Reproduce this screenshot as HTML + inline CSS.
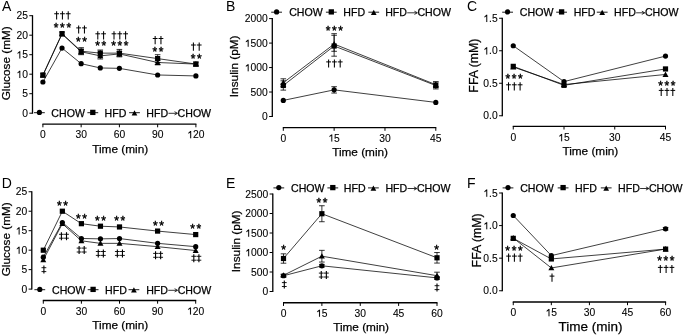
<!DOCTYPE html>
<html><head><meta charset="utf-8"><style>
html,body{margin:0;padding:0;background:#fff;}
body{width:685px;height:336px;overflow:hidden;}
svg{display:block;font-family:"Liberation Sans", sans-serif;will-change:transform;}
text{stroke:#000;stroke-width:0.25px;}
.lab{stroke-width:0;}
.tk{stroke-width:0.1px;}
.ast{stroke-width:0.4px;}
</style></head><body>
<svg width="685" height="336" viewBox="0 0 685 336">
<rect width="685" height="336" fill="#fff"/>
<text x="2.00" y="11.00" font-size="14" text-anchor="start" class="lab">A</text>
<line x1="32.50" y1="113.70" x2="32.50" y2="15.20" stroke="#000" stroke-width="1.3"/>
<line x1="29.30" y1="113.20" x2="32.50" y2="113.20" stroke="#000" stroke-width="1.0"/>
<text x="27.90" y="116.91" font-size="10.3" text-anchor="end" class="tk">0</text>
<line x1="29.30" y1="93.70" x2="32.50" y2="93.70" stroke="#000" stroke-width="1.0"/>
<text x="27.90" y="97.41" font-size="10.3" text-anchor="end" class="tk">5</text>
<line x1="29.30" y1="74.20" x2="32.50" y2="74.20" stroke="#000" stroke-width="1.0"/>
<text x="27.90" y="77.91" font-size="10.3" text-anchor="end" class="tk"> 0</text>
<path d="M583 0V1120L215 905V1080L600 1409H763V0Z" transform="translate(16.44,77.91) scale(0.00503,-0.00503)" fill="#000" stroke="#000" stroke-width="19.9"/>
<line x1="29.30" y1="54.70" x2="32.50" y2="54.70" stroke="#000" stroke-width="1.0"/>
<text x="27.90" y="58.41" font-size="10.3" text-anchor="end" class="tk"> 5</text>
<path d="M583 0V1120L215 905V1080L600 1409H763V0Z" transform="translate(16.44,58.41) scale(0.00503,-0.00503)" fill="#000" stroke="#000" stroke-width="19.9"/>
<line x1="29.30" y1="35.20" x2="32.50" y2="35.20" stroke="#000" stroke-width="1.0"/>
<text x="27.90" y="38.91" font-size="10.3" text-anchor="end" class="tk">20</text>
<line x1="29.30" y1="15.70" x2="32.50" y2="15.70" stroke="#000" stroke-width="1.0"/>
<text x="27.90" y="19.41" font-size="10.3" text-anchor="end" class="tk">25</text>
<line x1="42.40" y1="124.10" x2="196.40" y2="124.10" stroke="#000" stroke-width="1.3"/>
<line x1="42.90" y1="124.10" x2="42.90" y2="127.30" stroke="#000" stroke-width="1.0"/>
<text x="42.90" y="138.20" font-size="10.3" text-anchor="middle" class="tk">0</text>
<line x1="81.15" y1="124.10" x2="81.15" y2="127.30" stroke="#000" stroke-width="1.0"/>
<text x="81.15" y="138.20" font-size="10.3" text-anchor="middle" class="tk">30</text>
<line x1="119.40" y1="124.10" x2="119.40" y2="127.30" stroke="#000" stroke-width="1.0"/>
<text x="119.40" y="138.20" font-size="10.3" text-anchor="middle" class="tk">60</text>
<line x1="157.65" y1="124.10" x2="157.65" y2="127.30" stroke="#000" stroke-width="1.0"/>
<text x="157.65" y="138.20" font-size="10.3" text-anchor="middle" class="tk">90</text>
<line x1="195.90" y1="124.10" x2="195.90" y2="127.30" stroke="#000" stroke-width="1.0"/>
<text x="195.90" y="138.20" font-size="10.3" text-anchor="middle" class="tk"> 20</text>
<path d="M583 0V1120L215 905V1080L600 1409H763V0Z" transform="translate(187.31,138.20) scale(0.00503,-0.00503)" fill="#000" stroke="#000" stroke-width="19.9"/>
<text x="120.20" y="153.00" font-size="11.8" text-anchor="middle">Time (min)</text>
<text x="0" y="0" font-size="11.8" text-anchor="middle" transform="translate(10.00,63.30) rotate(-90)">Glucose (mM)</text>
<polyline points="42.90,82.00 62.02,48.07 81.15,63.67 100.28,67.96 119.40,68.35 157.65,74.98 195.90,75.95" fill="none" stroke="#000" stroke-width="0.75"/>
<circle cx="42.90" cy="82.00" r="2.60" fill="#000"/>
<circle cx="62.02" cy="48.07" r="2.60" fill="#000"/>
<circle cx="81.15" cy="63.67" r="2.60" fill="#000"/>
<circle cx="100.28" cy="67.96" r="2.60" fill="#000"/>
<circle cx="119.40" cy="68.35" r="2.60" fill="#000"/>
<circle cx="157.65" cy="74.98" r="2.60" fill="#000"/>
<circle cx="195.90" cy="75.95" r="2.60" fill="#000"/>
<polyline points="42.90,75.37 62.02,34.03 81.15,51.78 100.28,55.87 119.40,53.92 157.65,62.50 195.90,64.06" fill="none" stroke="#000" stroke-width="0.75"/>
<line x1="81.15" y1="49.43" x2="81.15" y2="54.12" stroke="#000" stroke-width="0.8"/>
<line x1="78.35" y1="49.43" x2="83.95" y2="49.43" stroke="#000" stroke-width="0.8"/>
<line x1="78.35" y1="54.12" x2="83.95" y2="54.12" stroke="#000" stroke-width="0.8"/>
<line x1="100.28" y1="52.75" x2="100.28" y2="58.99" stroke="#000" stroke-width="0.8"/>
<line x1="97.48" y1="52.75" x2="103.08" y2="52.75" stroke="#000" stroke-width="0.8"/>
<line x1="97.48" y1="58.99" x2="103.08" y2="58.99" stroke="#000" stroke-width="0.8"/>
<line x1="119.40" y1="51.58" x2="119.40" y2="56.26" stroke="#000" stroke-width="0.8"/>
<line x1="116.60" y1="51.58" x2="122.20" y2="51.58" stroke="#000" stroke-width="0.8"/>
<line x1="116.60" y1="56.26" x2="122.20" y2="56.26" stroke="#000" stroke-width="0.8"/>
<line x1="157.65" y1="60.16" x2="157.65" y2="64.84" stroke="#000" stroke-width="0.8"/>
<line x1="154.85" y1="60.16" x2="160.45" y2="60.16" stroke="#000" stroke-width="0.8"/>
<line x1="154.85" y1="64.84" x2="160.45" y2="64.84" stroke="#000" stroke-width="0.8"/>
<polygon points="42.90,72.37 45.90,77.77 39.90,77.77" fill="#000"/>
<polygon points="62.02,31.03 65.03,36.43 59.02,36.43" fill="#000"/>
<polygon points="81.15,48.78 84.15,54.18 78.15,54.18" fill="#000"/>
<polygon points="100.28,52.87 103.28,58.27 97.28,58.27" fill="#000"/>
<polygon points="119.40,50.92 122.40,56.32 116.40,56.32" fill="#000"/>
<polygon points="157.65,59.50 160.65,64.90 154.65,64.90" fill="#000"/>
<polygon points="195.90,61.06 198.90,66.46 192.90,66.46" fill="#000"/>
<polyline points="42.90,74.98 62.02,33.64 81.15,51.19 100.28,53.14 119.40,53.14 157.65,58.60 195.90,64.06" fill="none" stroke="#000" stroke-width="0.75"/>
<line x1="42.90" y1="73.81" x2="42.90" y2="76.15" stroke="#000" stroke-width="0.8"/>
<line x1="40.10" y1="73.81" x2="45.70" y2="73.81" stroke="#000" stroke-width="0.8"/>
<line x1="40.10" y1="76.15" x2="45.70" y2="76.15" stroke="#000" stroke-width="0.8"/>
<line x1="62.02" y1="32.08" x2="62.02" y2="35.20" stroke="#000" stroke-width="0.8"/>
<line x1="59.23" y1="32.08" x2="64.83" y2="32.08" stroke="#000" stroke-width="0.8"/>
<line x1="59.23" y1="35.20" x2="64.83" y2="35.20" stroke="#000" stroke-width="0.8"/>
<line x1="81.15" y1="47.68" x2="81.15" y2="54.70" stroke="#000" stroke-width="0.8"/>
<line x1="78.35" y1="47.68" x2="83.95" y2="47.68" stroke="#000" stroke-width="0.8"/>
<line x1="78.35" y1="54.70" x2="83.95" y2="54.70" stroke="#000" stroke-width="0.8"/>
<line x1="100.28" y1="50.02" x2="100.28" y2="56.26" stroke="#000" stroke-width="0.8"/>
<line x1="97.48" y1="50.02" x2="103.08" y2="50.02" stroke="#000" stroke-width="0.8"/>
<line x1="97.48" y1="56.26" x2="103.08" y2="56.26" stroke="#000" stroke-width="0.8"/>
<line x1="119.40" y1="49.43" x2="119.40" y2="56.85" stroke="#000" stroke-width="0.8"/>
<line x1="116.60" y1="49.43" x2="122.20" y2="49.43" stroke="#000" stroke-width="0.8"/>
<line x1="116.60" y1="56.85" x2="122.20" y2="56.85" stroke="#000" stroke-width="0.8"/>
<line x1="157.65" y1="54.70" x2="157.65" y2="62.50" stroke="#000" stroke-width="0.8"/>
<line x1="154.85" y1="54.70" x2="160.45" y2="54.70" stroke="#000" stroke-width="0.8"/>
<line x1="154.85" y1="62.50" x2="160.45" y2="62.50" stroke="#000" stroke-width="0.8"/>
<line x1="195.90" y1="62.11" x2="195.90" y2="66.01" stroke="#000" stroke-width="0.8"/>
<line x1="193.10" y1="62.11" x2="198.70" y2="62.11" stroke="#000" stroke-width="0.8"/>
<line x1="193.10" y1="66.01" x2="198.70" y2="66.01" stroke="#000" stroke-width="0.8"/>
<rect x="40.30" y="72.38" width="5.20" height="5.20" fill="#000"/>
<rect x="59.42" y="31.04" width="5.20" height="5.20" fill="#000"/>
<rect x="78.55" y="48.59" width="5.20" height="5.20" fill="#000"/>
<rect x="97.68" y="50.54" width="5.20" height="5.20" fill="#000"/>
<rect x="116.80" y="50.54" width="5.20" height="5.20" fill="#000"/>
<rect x="155.05" y="56.00" width="5.20" height="5.20" fill="#000"/>
<rect x="193.30" y="61.46" width="5.20" height="5.20" fill="#000"/>
<line x1="34.00" y1="112.70" x2="44.80" y2="112.70" stroke="#000" stroke-width="0.9"/>
<circle cx="39.40" cy="112.40" r="2.60" fill="#000"/>
<line x1="87.40" y1="112.70" x2="98.20" y2="112.70" stroke="#000" stroke-width="0.9"/>
<rect x="90.15" y="109.75" width="5.30" height="5.30" fill="#000"/>
<line x1="129.10" y1="112.70" x2="139.90" y2="112.70" stroke="#000" stroke-width="0.9"/>
<polygon points="134.50,110.30 137.35,115.43 131.65,115.43" fill="#000"/>
<text x="51.36" y="116.87" font-size="10.6" text-anchor="start">CHOW</text>
<text x="104.53" y="116.87" font-size="10.6" text-anchor="start">HFD</text>
<text x="146.33" y="116.87" font-size="10.6" text-anchor="start">HFD</text>
<line x1="168.41" y1="113.30" x2="176.92" y2="113.30" stroke="#000" stroke-width="0.8"/>
<path d="M174.52,111.70 L177.52,113.30 L174.52,114.90" fill="none" stroke="#000" stroke-width="0.8"/>
<text x="177.58" y="116.87" font-size="10.6" text-anchor="start">CHOW</text>
<path d="M56.62,11.25v8.2" stroke="#000" stroke-width="1.05"/><path d="M54.23,13.75h4.8" stroke="#000" stroke-width="1.0"/>
<path d="M62.42,11.25v8.2" stroke="#000" stroke-width="1.05"/><path d="M60.02,13.75h4.8" stroke="#000" stroke-width="1.0"/>
<path d="M68.22,11.25v8.2" stroke="#000" stroke-width="1.05"/><path d="M65.82,13.75h4.8" stroke="#000" stroke-width="1.0"/>
<text x="56.12" y="31.56" font-size="12" text-anchor="middle" class="ast">*</text>
<text x="62.42" y="31.56" font-size="12" text-anchor="middle" class="ast">*</text>
<text x="68.72" y="31.56" font-size="12" text-anchor="middle" class="ast">*</text>
<path d="M78.65,25.40v8.2" stroke="#000" stroke-width="1.05"/><path d="M76.25,27.90h4.8" stroke="#000" stroke-width="1.0"/>
<path d="M84.45,25.40v8.2" stroke="#000" stroke-width="1.05"/><path d="M82.05,27.90h4.8" stroke="#000" stroke-width="1.0"/>
<text x="78.40" y="45.56" font-size="12" text-anchor="middle" class="ast">*</text>
<text x="84.70" y="45.56" font-size="12" text-anchor="middle" class="ast">*</text>
<path d="M97.78,31.30v8.2" stroke="#000" stroke-width="1.05"/><path d="M95.38,33.80h4.8" stroke="#000" stroke-width="1.0"/>
<path d="M103.58,31.30v8.2" stroke="#000" stroke-width="1.05"/><path d="M101.18,33.80h4.8" stroke="#000" stroke-width="1.0"/>
<text x="97.53" y="50.26" font-size="12" text-anchor="middle" class="ast">*</text>
<text x="103.83" y="50.26" font-size="12" text-anchor="middle" class="ast">*</text>
<path d="M114.00,31.30v8.2" stroke="#000" stroke-width="1.05"/><path d="M111.60,33.80h4.8" stroke="#000" stroke-width="1.0"/>
<path d="M119.80,31.30v8.2" stroke="#000" stroke-width="1.05"/><path d="M117.40,33.80h4.8" stroke="#000" stroke-width="1.0"/>
<path d="M125.60,31.30v8.2" stroke="#000" stroke-width="1.05"/><path d="M123.20,33.80h4.8" stroke="#000" stroke-width="1.0"/>
<text x="113.50" y="50.26" font-size="12" text-anchor="middle" class="ast">*</text>
<text x="119.80" y="50.26" font-size="12" text-anchor="middle" class="ast">*</text>
<text x="126.10" y="50.26" font-size="12" text-anchor="middle" class="ast">*</text>
<path d="M155.15,36.00v8.2" stroke="#000" stroke-width="1.05"/><path d="M152.75,38.50h4.8" stroke="#000" stroke-width="1.0"/>
<path d="M160.95,36.00v8.2" stroke="#000" stroke-width="1.05"/><path d="M158.55,38.50h4.8" stroke="#000" stroke-width="1.0"/>
<text x="154.90" y="56.16" font-size="12" text-anchor="middle" class="ast">*</text>
<text x="161.20" y="56.16" font-size="12" text-anchor="middle" class="ast">*</text>
<path d="M193.40,42.50v8.2" stroke="#000" stroke-width="1.05"/><path d="M191.00,45.00h4.8" stroke="#000" stroke-width="1.0"/>
<path d="M199.20,42.50v8.2" stroke="#000" stroke-width="1.05"/><path d="M196.80,45.00h4.8" stroke="#000" stroke-width="1.0"/>
<text x="193.15" y="62.66" font-size="12" text-anchor="middle" class="ast">*</text>
<text x="199.45" y="62.66" font-size="12" text-anchor="middle" class="ast">*</text>
<text x="226.00" y="11.00" font-size="14" text-anchor="start" class="lab">B</text>
<line x1="272.30" y1="117.00" x2="272.30" y2="18.10" stroke="#000" stroke-width="1.3"/>
<line x1="269.10" y1="116.50" x2="272.30" y2="116.50" stroke="#000" stroke-width="1.0"/>
<text x="267.70" y="120.21" font-size="10.3" text-anchor="end" class="tk">0</text>
<line x1="269.10" y1="92.03" x2="272.30" y2="92.03" stroke="#000" stroke-width="1.0"/>
<text x="267.70" y="95.73" font-size="10.3" text-anchor="end" class="tk">500</text>
<line x1="269.10" y1="67.55" x2="272.30" y2="67.55" stroke="#000" stroke-width="1.0"/>
<text x="267.70" y="71.26" font-size="10.3" text-anchor="end" class="tk"> 000</text>
<path d="M583 0V1120L215 905V1080L600 1409H763V0Z" transform="translate(244.79,71.26) scale(0.00503,-0.00503)" fill="#000" stroke="#000" stroke-width="19.9"/>
<line x1="269.10" y1="43.08" x2="272.30" y2="43.08" stroke="#000" stroke-width="1.0"/>
<text x="267.70" y="46.78" font-size="10.3" text-anchor="end" class="tk"> 500</text>
<path d="M583 0V1120L215 905V1080L600 1409H763V0Z" transform="translate(244.79,46.78) scale(0.00503,-0.00503)" fill="#000" stroke="#000" stroke-width="19.9"/>
<line x1="269.10" y1="18.60" x2="272.30" y2="18.60" stroke="#000" stroke-width="1.0"/>
<text x="267.70" y="22.31" font-size="10.3" text-anchor="end" class="tk">2000</text>
<line x1="282.80" y1="127.60" x2="436.30" y2="127.60" stroke="#000" stroke-width="1.3"/>
<line x1="283.30" y1="127.60" x2="283.30" y2="130.80" stroke="#000" stroke-width="1.0"/>
<text x="283.30" y="141.50" font-size="10.3" text-anchor="middle" class="tk">0</text>
<line x1="334.13" y1="127.60" x2="334.13" y2="130.80" stroke="#000" stroke-width="1.0"/>
<text x="334.13" y="141.50" font-size="10.3" text-anchor="middle" class="tk"> 5</text>
<path d="M583 0V1120L215 905V1080L600 1409H763V0Z" transform="translate(328.40,141.50) scale(0.00503,-0.00503)" fill="#000" stroke="#000" stroke-width="19.9"/>
<line x1="384.97" y1="127.60" x2="384.97" y2="130.80" stroke="#000" stroke-width="1.0"/>
<text x="384.97" y="141.50" font-size="10.3" text-anchor="middle" class="tk">30</text>
<line x1="435.80" y1="127.60" x2="435.80" y2="130.80" stroke="#000" stroke-width="1.0"/>
<text x="435.80" y="141.50" font-size="10.3" text-anchor="middle" class="tk">45</text>
<text x="360.10" y="156.30" font-size="11.8" text-anchor="middle">Time (min)</text>
<text x="0" y="0" font-size="11.8" text-anchor="middle" transform="translate(237.90,66.35) rotate(-90)">Insulin (pM)</text>
<polyline points="283.30,100.40 334.13,89.87 435.80,102.40" fill="none" stroke="#000" stroke-width="0.75"/>
<line x1="334.13" y1="86.69" x2="334.13" y2="93.05" stroke="#000" stroke-width="0.8"/>
<line x1="331.33" y1="86.69" x2="336.93" y2="86.69" stroke="#000" stroke-width="0.8"/>
<line x1="331.33" y1="93.05" x2="336.93" y2="93.05" stroke="#000" stroke-width="0.8"/>
<circle cx="283.30" cy="100.40" r="2.60" fill="#000"/>
<circle cx="334.13" cy="89.87" r="2.60" fill="#000"/>
<circle cx="435.80" cy="102.40" r="2.60" fill="#000"/>
<polyline points="283.30,82.72 334.13,44.05 435.80,84.68" fill="none" stroke="#000" stroke-width="0.75"/>
<line x1="283.30" y1="78.81" x2="283.30" y2="86.64" stroke="#000" stroke-width="0.8"/>
<line x1="280.50" y1="78.81" x2="286.10" y2="78.81" stroke="#000" stroke-width="0.8"/>
<line x1="280.50" y1="86.64" x2="286.10" y2="86.64" stroke="#000" stroke-width="0.8"/>
<line x1="334.13" y1="35.29" x2="334.13" y2="51.30" stroke="#000" stroke-width="0.8"/>
<line x1="331.33" y1="35.29" x2="336.93" y2="35.29" stroke="#000" stroke-width="0.8"/>
<line x1="331.33" y1="51.30" x2="336.93" y2="51.30" stroke="#000" stroke-width="0.8"/>
<line x1="435.80" y1="81.75" x2="435.80" y2="87.62" stroke="#000" stroke-width="0.8"/>
<line x1="433.00" y1="81.75" x2="438.60" y2="81.75" stroke="#000" stroke-width="0.8"/>
<line x1="433.00" y1="87.62" x2="438.60" y2="87.62" stroke="#000" stroke-width="0.8"/>
<polygon points="283.30,79.72 286.30,85.12 280.30,85.12" fill="#000"/>
<polygon points="334.13,41.05 337.13,46.45 331.13,46.45" fill="#000"/>
<polygon points="435.80,81.68 438.80,87.08 432.80,87.08" fill="#000"/>
<polyline points="283.30,85.47 334.13,46.01 435.80,85.51" fill="none" stroke="#000" stroke-width="0.75"/>
<line x1="283.30" y1="80.82" x2="283.30" y2="90.12" stroke="#000" stroke-width="0.8"/>
<line x1="280.50" y1="80.82" x2="286.10" y2="80.82" stroke="#000" stroke-width="0.8"/>
<line x1="280.50" y1="90.12" x2="286.10" y2="90.12" stroke="#000" stroke-width="0.8"/>
<line x1="334.13" y1="33.68" x2="334.13" y2="56.19" stroke="#000" stroke-width="0.8"/>
<line x1="331.33" y1="33.68" x2="336.93" y2="33.68" stroke="#000" stroke-width="0.8"/>
<line x1="331.33" y1="56.19" x2="336.93" y2="56.19" stroke="#000" stroke-width="0.8"/>
<line x1="435.80" y1="82.09" x2="435.80" y2="88.94" stroke="#000" stroke-width="0.8"/>
<line x1="433.00" y1="82.09" x2="438.60" y2="82.09" stroke="#000" stroke-width="0.8"/>
<line x1="433.00" y1="88.94" x2="438.60" y2="88.94" stroke="#000" stroke-width="0.8"/>
<rect x="280.70" y="82.87" width="5.20" height="5.20" fill="#000"/>
<rect x="331.53" y="43.41" width="5.20" height="5.20" fill="#000"/>
<rect x="433.20" y="82.91" width="5.20" height="5.20" fill="#000"/>
<line x1="271.20" y1="12.20" x2="282.00" y2="12.20" stroke="#000" stroke-width="0.9"/>
<circle cx="276.60" cy="11.90" r="2.60" fill="#000"/>
<line x1="325.90" y1="12.20" x2="336.70" y2="12.20" stroke="#000" stroke-width="0.9"/>
<rect x="328.65" y="9.25" width="5.30" height="5.30" fill="#000"/>
<line x1="368.35" y1="12.20" x2="379.15" y2="12.20" stroke="#000" stroke-width="0.9"/>
<polygon points="373.75,9.80 376.60,14.93 370.90,14.93" fill="#000"/>
<text x="289.16" y="16.37" font-size="10.6" text-anchor="start">CHOW</text>
<text x="343.33" y="16.37" font-size="10.6" text-anchor="start">HFD</text>
<text x="385.13" y="16.37" font-size="10.6" text-anchor="start">HFD</text>
<line x1="407.21" y1="12.80" x2="416.82" y2="12.80" stroke="#000" stroke-width="0.8"/>
<path d="M414.42,11.20 L417.42,12.80 L414.42,14.40" fill="none" stroke="#000" stroke-width="0.8"/>
<text x="417.48" y="16.37" font-size="10.6" text-anchor="start">CHOW</text>
<text x="328.10" y="34.66" font-size="12" text-anchor="middle" class="ast">*</text>
<text x="334.40" y="34.66" font-size="12" text-anchor="middle" class="ast">*</text>
<text x="340.70" y="34.66" font-size="12" text-anchor="middle" class="ast">*</text>
<path d="M328.60,59.40v8.2" stroke="#000" stroke-width="1.05"/><path d="M326.20,61.90h4.8" stroke="#000" stroke-width="1.0"/>
<path d="M334.40,59.40v8.2" stroke="#000" stroke-width="1.05"/><path d="M332.00,61.90h4.8" stroke="#000" stroke-width="1.0"/>
<path d="M340.20,59.40v8.2" stroke="#000" stroke-width="1.05"/><path d="M337.80,61.90h4.8" stroke="#000" stroke-width="1.0"/>
<text x="467.00" y="11.00" font-size="14" text-anchor="start" class="lab">C</text>
<line x1="502.30" y1="116.25" x2="502.30" y2="17.75" stroke="#000" stroke-width="1.3"/>
<line x1="499.10" y1="115.75" x2="502.30" y2="115.75" stroke="#000" stroke-width="1.0"/>
<text x="497.70" y="119.46" font-size="10.3" text-anchor="end" class="tk">0.0</text>
<line x1="499.10" y1="83.25" x2="502.30" y2="83.25" stroke="#000" stroke-width="1.0"/>
<text x="497.70" y="86.96" font-size="10.3" text-anchor="end" class="tk">0.5</text>
<line x1="499.10" y1="50.75" x2="502.30" y2="50.75" stroke="#000" stroke-width="1.0"/>
<text x="497.70" y="54.46" font-size="10.3" text-anchor="end" class="tk"> .0</text>
<path d="M583 0V1120L215 905V1080L600 1409H763V0Z" transform="translate(483.38,54.46) scale(0.00503,-0.00503)" fill="#000" stroke="#000" stroke-width="19.9"/>
<line x1="499.10" y1="18.25" x2="502.30" y2="18.25" stroke="#000" stroke-width="1.0"/>
<text x="497.70" y="21.96" font-size="10.3" text-anchor="end" class="tk"> .5</text>
<path d="M583 0V1120L215 905V1080L600 1409H763V0Z" transform="translate(483.38,21.96) scale(0.00503,-0.00503)" fill="#000" stroke="#000" stroke-width="19.9"/>
<line x1="512.75" y1="126.30" x2="666.00" y2="126.30" stroke="#000" stroke-width="1.3"/>
<line x1="513.25" y1="126.30" x2="513.25" y2="129.50" stroke="#000" stroke-width="1.0"/>
<text x="513.25" y="141.20" font-size="10.3" text-anchor="middle" class="tk">0</text>
<line x1="564.00" y1="126.30" x2="564.00" y2="129.50" stroke="#000" stroke-width="1.0"/>
<text x="564.00" y="141.20" font-size="10.3" text-anchor="middle" class="tk"> 5</text>
<path d="M583 0V1120L215 905V1080L600 1409H763V0Z" transform="translate(558.27,141.20) scale(0.00503,-0.00503)" fill="#000" stroke="#000" stroke-width="19.9"/>
<line x1="614.75" y1="126.30" x2="614.75" y2="129.50" stroke="#000" stroke-width="1.0"/>
<text x="614.75" y="141.20" font-size="10.3" text-anchor="middle" class="tk">30</text>
<line x1="665.50" y1="126.30" x2="665.50" y2="129.50" stroke="#000" stroke-width="1.0"/>
<text x="665.50" y="141.20" font-size="10.3" text-anchor="middle" class="tk">45</text>
<text x="590.35" y="155.30" font-size="11.8" text-anchor="middle">Time (min)</text>
<text x="0" y="0" font-size="12.3" text-anchor="middle" transform="translate(478.10,65.65) rotate(-90)">FFA (mM)</text>
<polyline points="513.25,45.75 564.00,81.62 665.50,56.08" fill="none" stroke="#000" stroke-width="0.75"/>
<circle cx="513.25" cy="45.75" r="2.60" fill="#000"/>
<circle cx="564.00" cy="81.62" r="2.60" fill="#000"/>
<circle cx="665.50" cy="56.08" r="2.60" fill="#000"/>
<polyline points="513.25,67.00 564.00,84.55 665.50,74.47" fill="none" stroke="#000" stroke-width="0.75"/>
<polygon points="513.25,64.00 516.25,69.40 510.25,69.40" fill="#000"/>
<polygon points="564.00,81.55 567.00,86.95 561.00,86.95" fill="#000"/>
<polygon points="665.50,71.47 668.50,76.88 662.50,76.88" fill="#000"/>
<polyline points="513.25,66.35 564.00,85.33 665.50,68.95" fill="none" stroke="#000" stroke-width="0.75"/>
<rect x="510.65" y="63.75" width="5.20" height="5.20" fill="#000"/>
<rect x="561.40" y="82.73" width="5.20" height="5.20" fill="#000"/>
<rect x="662.90" y="66.35" width="5.20" height="5.20" fill="#000"/>
<line x1="502.20" y1="12.20" x2="513.00" y2="12.20" stroke="#000" stroke-width="0.9"/>
<circle cx="507.60" cy="11.90" r="2.60" fill="#000"/>
<line x1="556.20" y1="12.20" x2="567.00" y2="12.20" stroke="#000" stroke-width="0.9"/>
<rect x="558.95" y="9.25" width="5.30" height="5.30" fill="#000"/>
<line x1="596.80" y1="12.20" x2="607.60" y2="12.20" stroke="#000" stroke-width="0.9"/>
<polygon points="602.20,9.80 605.05,14.93 599.35,14.93" fill="#000"/>
<text x="519.86" y="16.37" font-size="10.6" text-anchor="start">CHOW</text>
<text x="573.63" y="16.37" font-size="10.6" text-anchor="start">HFD</text>
<text x="614.03" y="16.37" font-size="10.6" text-anchor="start">HFD</text>
<line x1="636.11" y1="12.80" x2="644.22" y2="12.80" stroke="#000" stroke-width="0.8"/>
<path d="M641.82,11.20 L644.82,12.80 L641.82,14.40" fill="none" stroke="#000" stroke-width="0.8"/>
<text x="644.88" y="16.37" font-size="10.6" text-anchor="start">CHOW</text>
<text x="507.80" y="83.36" font-size="12" text-anchor="middle" class="ast">*</text>
<text x="514.10" y="83.36" font-size="12" text-anchor="middle" class="ast">*</text>
<text x="520.40" y="83.36" font-size="12" text-anchor="middle" class="ast">*</text>
<path d="M508.50,82.30v8.2" stroke="#000" stroke-width="1.05"/><path d="M506.10,84.80h4.8" stroke="#000" stroke-width="1.0"/>
<path d="M514.30,82.30v8.2" stroke="#000" stroke-width="1.05"/><path d="M511.90,84.80h4.8" stroke="#000" stroke-width="1.0"/>
<path d="M520.10,82.30v8.2" stroke="#000" stroke-width="1.05"/><path d="M517.70,84.80h4.8" stroke="#000" stroke-width="1.0"/>
<text x="660.50" y="89.56" font-size="12" text-anchor="middle" class="ast">*</text>
<text x="666.80" y="89.56" font-size="12" text-anchor="middle" class="ast">*</text>
<text x="673.10" y="89.56" font-size="12" text-anchor="middle" class="ast">*</text>
<path d="M661.20,87.90v8.2" stroke="#000" stroke-width="1.05"/><path d="M658.80,90.40h4.8" stroke="#000" stroke-width="1.0"/>
<path d="M667.00,87.90v8.2" stroke="#000" stroke-width="1.05"/><path d="M664.60,90.40h4.8" stroke="#000" stroke-width="1.0"/>
<path d="M672.80,87.90v8.2" stroke="#000" stroke-width="1.05"/><path d="M670.40,90.40h4.8" stroke="#000" stroke-width="1.0"/>
<text x="1.80" y="187.80" font-size="14" text-anchor="start" class="lab">D</text>
<line x1="31.80" y1="289.60" x2="31.80" y2="191.25" stroke="#000" stroke-width="1.3"/>
<line x1="28.60" y1="289.10" x2="31.80" y2="289.10" stroke="#000" stroke-width="1.0"/>
<text x="27.20" y="292.81" font-size="10.3" text-anchor="end" class="tk">0</text>
<line x1="28.60" y1="269.63" x2="31.80" y2="269.63" stroke="#000" stroke-width="1.0"/>
<text x="27.20" y="273.34" font-size="10.3" text-anchor="end" class="tk">5</text>
<line x1="28.60" y1="250.16" x2="31.80" y2="250.16" stroke="#000" stroke-width="1.0"/>
<text x="27.20" y="253.87" font-size="10.3" text-anchor="end" class="tk"> 0</text>
<path d="M583 0V1120L215 905V1080L600 1409H763V0Z" transform="translate(15.74,253.87) scale(0.00503,-0.00503)" fill="#000" stroke="#000" stroke-width="19.9"/>
<line x1="28.60" y1="230.69" x2="31.80" y2="230.69" stroke="#000" stroke-width="1.0"/>
<text x="27.20" y="234.40" font-size="10.3" text-anchor="end" class="tk"> 5</text>
<path d="M583 0V1120L215 905V1080L600 1409H763V0Z" transform="translate(15.74,234.40) scale(0.00503,-0.00503)" fill="#000" stroke="#000" stroke-width="19.9"/>
<line x1="28.60" y1="211.22" x2="31.80" y2="211.22" stroke="#000" stroke-width="1.0"/>
<text x="27.20" y="214.93" font-size="10.3" text-anchor="end" class="tk">20</text>
<line x1="28.60" y1="191.75" x2="31.80" y2="191.75" stroke="#000" stroke-width="1.0"/>
<text x="27.20" y="195.46" font-size="10.3" text-anchor="end" class="tk">25</text>
<line x1="42.80" y1="300.50" x2="196.20" y2="300.50" stroke="#000" stroke-width="1.3"/>
<line x1="43.30" y1="300.50" x2="43.30" y2="303.70" stroke="#000" stroke-width="1.0"/>
<text x="43.30" y="314.50" font-size="10.3" text-anchor="middle" class="tk">0</text>
<line x1="81.40" y1="300.50" x2="81.40" y2="303.70" stroke="#000" stroke-width="1.0"/>
<text x="81.40" y="314.50" font-size="10.3" text-anchor="middle" class="tk">30</text>
<line x1="119.50" y1="300.50" x2="119.50" y2="303.70" stroke="#000" stroke-width="1.0"/>
<text x="119.50" y="314.50" font-size="10.3" text-anchor="middle" class="tk">60</text>
<line x1="157.60" y1="300.50" x2="157.60" y2="303.70" stroke="#000" stroke-width="1.0"/>
<text x="157.60" y="314.50" font-size="10.3" text-anchor="middle" class="tk">90</text>
<line x1="195.70" y1="300.50" x2="195.70" y2="303.70" stroke="#000" stroke-width="1.0"/>
<text x="195.70" y="314.50" font-size="10.3" text-anchor="middle" class="tk"> 20</text>
<path d="M583 0V1120L215 905V1080L600 1409H763V0Z" transform="translate(187.11,314.50) scale(0.00503,-0.00503)" fill="#000" stroke="#000" stroke-width="19.9"/>
<text x="120.25" y="328.90" font-size="11.8" text-anchor="middle">Time (min)</text>
<text x="0" y="0" font-size="11.8" text-anchor="middle" transform="translate(9.80,239.30) rotate(-90)">Glucose (mM)</text>
<polyline points="43.30,257.17 62.35,222.51 81.40,238.48 100.45,238.87 119.50,238.56 157.60,243.35 195.70,246.66" fill="none" stroke="#000" stroke-width="0.75"/>
<circle cx="43.30" cy="257.17" r="2.60" fill="#000"/>
<circle cx="62.35" cy="222.51" r="2.60" fill="#000"/>
<circle cx="81.40" cy="238.48" r="2.60" fill="#000"/>
<circle cx="100.45" cy="238.87" r="2.60" fill="#000"/>
<circle cx="119.50" cy="238.56" r="2.60" fill="#000"/>
<circle cx="157.60" cy="243.35" r="2.60" fill="#000"/>
<circle cx="195.70" cy="246.66" r="2.60" fill="#000"/>
<polyline points="43.30,259.90 62.35,223.68 81.40,240.81 100.45,243.35 119.50,243.35 157.60,246.66 195.70,250.55" fill="none" stroke="#000" stroke-width="0.75"/>
<polygon points="43.30,256.90 46.30,262.30 40.30,262.30" fill="#000"/>
<polygon points="62.35,220.68 65.35,226.08 59.35,226.08" fill="#000"/>
<polygon points="81.40,237.81 84.40,243.21 78.40,243.21" fill="#000"/>
<polygon points="100.45,240.35 103.45,245.75 97.45,245.75" fill="#000"/>
<polygon points="119.50,240.35 122.50,245.75 116.50,245.75" fill="#000"/>
<polygon points="157.60,243.66 160.60,249.06 154.60,249.06" fill="#000"/>
<polygon points="195.70,247.55 198.70,252.95 192.70,252.95" fill="#000"/>
<polyline points="43.30,250.20 62.35,211.22 81.40,223.68 100.45,226.21 119.50,226.95 157.60,231.08 195.70,234.58" fill="none" stroke="#000" stroke-width="0.75"/>
<rect x="40.70" y="247.60" width="5.20" height="5.20" fill="#000"/>
<rect x="59.75" y="208.62" width="5.20" height="5.20" fill="#000"/>
<rect x="78.80" y="221.08" width="5.20" height="5.20" fill="#000"/>
<rect x="97.85" y="223.61" width="5.20" height="5.20" fill="#000"/>
<rect x="116.90" y="224.35" width="5.20" height="5.20" fill="#000"/>
<rect x="155.00" y="228.48" width="5.20" height="5.20" fill="#000"/>
<rect x="193.10" y="231.98" width="5.20" height="5.20" fill="#000"/>
<line x1="34.40" y1="289.70" x2="45.20" y2="289.70" stroke="#000" stroke-width="0.9"/>
<circle cx="39.80" cy="289.40" r="2.60" fill="#000"/>
<line x1="87.70" y1="289.70" x2="98.50" y2="289.70" stroke="#000" stroke-width="0.9"/>
<rect x="90.45" y="286.75" width="5.30" height="5.30" fill="#000"/>
<line x1="128.50" y1="289.70" x2="139.30" y2="289.70" stroke="#000" stroke-width="0.9"/>
<polygon points="133.90,287.30 136.75,292.43 131.05,292.43" fill="#000"/>
<text x="52.06" y="293.87" font-size="10.6" text-anchor="start">CHOW</text>
<text x="105.03" y="293.87" font-size="10.6" text-anchor="start">HFD</text>
<text x="146.13" y="293.87" font-size="10.6" text-anchor="start">HFD</text>
<line x1="168.21" y1="290.30" x2="177.02" y2="290.30" stroke="#000" stroke-width="0.8"/>
<path d="M174.62,288.70 L177.62,290.30 L174.62,291.90" fill="none" stroke="#000" stroke-width="0.8"/>
<text x="177.68" y="293.87" font-size="10.6" text-anchor="start">CHOW</text>
<text x="59.35" y="209.51" font-size="12" text-anchor="middle" class="ast">*</text>
<text x="65.65" y="209.51" font-size="12" text-anchor="middle" class="ast">*</text>
<path d="M61.40,232.20v8.0" stroke="#000" stroke-width="1.1"/><path d="M59.00,234.30h4.8M59.00,238.20h4.8" stroke="#000" stroke-width="0.9"/>
<path d="M66.50,232.20v8.0" stroke="#000" stroke-width="1.1"/><path d="M64.10,234.30h4.8M64.10,238.20h4.8" stroke="#000" stroke-width="0.9"/>
<text x="78.40" y="223.06" font-size="12" text-anchor="middle" class="ast">*</text>
<text x="84.70" y="223.06" font-size="12" text-anchor="middle" class="ast">*</text>
<path d="M79.10,246.00v8.0" stroke="#000" stroke-width="1.1"/><path d="M76.70,248.10h4.8M76.70,252.00h4.8" stroke="#000" stroke-width="0.9"/>
<path d="M84.20,246.00v8.0" stroke="#000" stroke-width="1.1"/><path d="M81.80,248.10h4.8M81.80,252.00h4.8" stroke="#000" stroke-width="0.9"/>
<text x="97.35" y="224.51" font-size="12" text-anchor="middle" class="ast">*</text>
<text x="103.65" y="224.51" font-size="12" text-anchor="middle" class="ast">*</text>
<path d="M98.25,249.40v8.0" stroke="#000" stroke-width="1.1"/><path d="M95.85,251.50h4.8M95.85,255.40h4.8" stroke="#000" stroke-width="0.9"/>
<path d="M103.35,249.40v8.0" stroke="#000" stroke-width="1.1"/><path d="M100.95,251.50h4.8M100.95,255.40h4.8" stroke="#000" stroke-width="0.9"/>
<text x="116.55" y="224.51" font-size="12" text-anchor="middle" class="ast">*</text>
<text x="122.85" y="224.51" font-size="12" text-anchor="middle" class="ast">*</text>
<path d="M117.35,249.40v8.0" stroke="#000" stroke-width="1.1"/><path d="M114.95,251.50h4.8M114.95,255.40h4.8" stroke="#000" stroke-width="0.9"/>
<path d="M122.45,249.40v8.0" stroke="#000" stroke-width="1.1"/><path d="M120.05,251.50h4.8M120.05,255.40h4.8" stroke="#000" stroke-width="0.9"/>
<text x="155.25" y="229.51" font-size="12" text-anchor="middle" class="ast">*</text>
<text x="161.55" y="229.51" font-size="12" text-anchor="middle" class="ast">*</text>
<path d="M155.55,251.30v8.0" stroke="#000" stroke-width="1.1"/><path d="M153.15,253.40h4.8M153.15,257.30h4.8" stroke="#000" stroke-width="0.9"/>
<path d="M160.65,251.30v8.0" stroke="#000" stroke-width="1.1"/><path d="M158.25,253.40h4.8M158.25,257.30h4.8" stroke="#000" stroke-width="0.9"/>
<text x="192.65" y="233.36" font-size="12" text-anchor="middle" class="ast">*</text>
<text x="198.95" y="233.36" font-size="12" text-anchor="middle" class="ast">*</text>
<path d="M193.80,254.20v8.0" stroke="#000" stroke-width="1.1"/><path d="M191.40,256.30h4.8M191.40,260.20h4.8" stroke="#000" stroke-width="0.9"/>
<path d="M198.90,254.20v8.0" stroke="#000" stroke-width="1.1"/><path d="M196.50,256.30h4.8M196.50,260.20h4.8" stroke="#000" stroke-width="0.9"/>
<path d="M43.90,265.60v8.0" stroke="#000" stroke-width="1.1"/><path d="M41.50,267.70h4.8M41.50,271.60h4.8" stroke="#000" stroke-width="0.9"/>
<text x="226.00" y="187.80" font-size="14" text-anchor="start" class="lab">E</text>
<line x1="272.80" y1="292.00" x2="272.80" y2="193.50" stroke="#000" stroke-width="1.3"/>
<line x1="269.60" y1="291.50" x2="272.80" y2="291.50" stroke="#000" stroke-width="1.0"/>
<text x="268.20" y="295.21" font-size="10.3" text-anchor="end" class="tk">0</text>
<line x1="269.60" y1="272.00" x2="272.80" y2="272.00" stroke="#000" stroke-width="1.0"/>
<text x="268.20" y="275.71" font-size="10.3" text-anchor="end" class="tk">500</text>
<line x1="269.60" y1="252.50" x2="272.80" y2="252.50" stroke="#000" stroke-width="1.0"/>
<text x="268.20" y="256.21" font-size="10.3" text-anchor="end" class="tk"> 000</text>
<path d="M583 0V1120L215 905V1080L600 1409H763V0Z" transform="translate(245.29,256.21) scale(0.00503,-0.00503)" fill="#000" stroke="#000" stroke-width="19.9"/>
<line x1="269.60" y1="233.00" x2="272.80" y2="233.00" stroke="#000" stroke-width="1.0"/>
<text x="268.20" y="236.71" font-size="10.3" text-anchor="end" class="tk"> 500</text>
<path d="M583 0V1120L215 905V1080L600 1409H763V0Z" transform="translate(245.29,236.71) scale(0.00503,-0.00503)" fill="#000" stroke="#000" stroke-width="19.9"/>
<line x1="269.60" y1="213.50" x2="272.80" y2="213.50" stroke="#000" stroke-width="1.0"/>
<text x="268.20" y="217.21" font-size="10.3" text-anchor="end" class="tk">2000</text>
<line x1="269.60" y1="194.00" x2="272.80" y2="194.00" stroke="#000" stroke-width="1.0"/>
<text x="268.20" y="197.71" font-size="10.3" text-anchor="end" class="tk">2500</text>
<line x1="283.00" y1="302.75" x2="437.50" y2="302.75" stroke="#000" stroke-width="1.3"/>
<line x1="283.50" y1="302.75" x2="283.50" y2="305.95" stroke="#000" stroke-width="1.0"/>
<text x="283.50" y="316.80" font-size="10.3" text-anchor="middle" class="tk">0</text>
<line x1="321.88" y1="302.75" x2="321.88" y2="305.95" stroke="#000" stroke-width="1.0"/>
<text x="321.88" y="316.80" font-size="10.3" text-anchor="middle" class="tk"> 5</text>
<path d="M583 0V1120L215 905V1080L600 1409H763V0Z" transform="translate(316.15,316.80) scale(0.00503,-0.00503)" fill="#000" stroke="#000" stroke-width="19.9"/>
<line x1="360.25" y1="302.75" x2="360.25" y2="305.95" stroke="#000" stroke-width="1.0"/>
<text x="360.25" y="316.80" font-size="10.3" text-anchor="middle" class="tk">30</text>
<line x1="398.62" y1="302.75" x2="398.62" y2="305.95" stroke="#000" stroke-width="1.0"/>
<text x="398.62" y="316.80" font-size="10.3" text-anchor="middle" class="tk">45</text>
<line x1="437.00" y1="302.75" x2="437.00" y2="305.95" stroke="#000" stroke-width="1.0"/>
<text x="437.00" y="316.80" font-size="10.3" text-anchor="middle" class="tk">60</text>
<text x="361.10" y="330.90" font-size="11.8" text-anchor="middle">Time (min)</text>
<text x="0" y="0" font-size="11.8" text-anchor="middle" transform="translate(239.70,241.35) rotate(-90)">Insulin (pM)</text>
<polyline points="283.50,275.74 321.88,265.80 437.00,277.89" fill="none" stroke="#000" stroke-width="0.75"/>
<line x1="283.50" y1="274.77" x2="283.50" y2="276.72" stroke="#000" stroke-width="0.8"/>
<line x1="280.70" y1="274.77" x2="286.30" y2="274.77" stroke="#000" stroke-width="0.8"/>
<line x1="280.70" y1="276.72" x2="286.30" y2="276.72" stroke="#000" stroke-width="0.8"/>
<line x1="321.88" y1="264.43" x2="321.88" y2="267.16" stroke="#000" stroke-width="0.8"/>
<line x1="319.07" y1="264.43" x2="324.68" y2="264.43" stroke="#000" stroke-width="0.8"/>
<line x1="319.07" y1="267.16" x2="324.68" y2="267.16" stroke="#000" stroke-width="0.8"/>
<line x1="437.00" y1="276.72" x2="437.00" y2="279.06" stroke="#000" stroke-width="0.8"/>
<line x1="434.20" y1="276.72" x2="439.80" y2="276.72" stroke="#000" stroke-width="0.8"/>
<line x1="434.20" y1="279.06" x2="439.80" y2="279.06" stroke="#000" stroke-width="0.8"/>
<circle cx="283.50" cy="275.74" r="2.60" fill="#000"/>
<circle cx="321.88" cy="265.80" r="2.60" fill="#000"/>
<circle cx="437.00" cy="277.89" r="2.60" fill="#000"/>
<polyline points="283.50,275.31 321.88,256.20 437.00,275.70" fill="none" stroke="#000" stroke-width="0.75"/>
<line x1="283.50" y1="274.14" x2="283.50" y2="276.49" stroke="#000" stroke-width="0.8"/>
<line x1="280.70" y1="274.14" x2="286.30" y2="274.14" stroke="#000" stroke-width="0.8"/>
<line x1="280.70" y1="276.49" x2="286.30" y2="276.49" stroke="#000" stroke-width="0.8"/>
<line x1="321.88" y1="250.35" x2="321.88" y2="262.06" stroke="#000" stroke-width="0.8"/>
<line x1="319.07" y1="250.35" x2="324.68" y2="250.35" stroke="#000" stroke-width="0.8"/>
<line x1="319.07" y1="262.06" x2="324.68" y2="262.06" stroke="#000" stroke-width="0.8"/>
<line x1="437.00" y1="272.19" x2="437.00" y2="279.21" stroke="#000" stroke-width="0.8"/>
<line x1="434.20" y1="272.19" x2="439.80" y2="272.19" stroke="#000" stroke-width="0.8"/>
<line x1="434.20" y1="279.21" x2="439.80" y2="279.21" stroke="#000" stroke-width="0.8"/>
<polygon points="283.50,272.31 286.50,277.71 280.50,277.71" fill="#000"/>
<polygon points="321.88,253.20 324.88,258.60 318.88,258.60" fill="#000"/>
<polygon points="437.00,272.70 440.00,278.10 434.00,278.10" fill="#000"/>
<polyline points="283.50,258.51 321.88,213.73 437.00,257.80" fill="none" stroke="#000" stroke-width="0.75"/>
<line x1="283.50" y1="253.83" x2="283.50" y2="263.19" stroke="#000" stroke-width="0.8"/>
<line x1="280.70" y1="253.83" x2="286.30" y2="253.83" stroke="#000" stroke-width="0.8"/>
<line x1="280.70" y1="263.19" x2="286.30" y2="263.19" stroke="#000" stroke-width="0.8"/>
<line x1="321.88" y1="205.74" x2="321.88" y2="221.73" stroke="#000" stroke-width="0.8"/>
<line x1="319.07" y1="205.74" x2="324.68" y2="205.74" stroke="#000" stroke-width="0.8"/>
<line x1="319.07" y1="221.73" x2="324.68" y2="221.73" stroke="#000" stroke-width="0.8"/>
<line x1="437.00" y1="252.54" x2="437.00" y2="263.07" stroke="#000" stroke-width="0.8"/>
<line x1="434.20" y1="252.54" x2="439.80" y2="252.54" stroke="#000" stroke-width="0.8"/>
<line x1="434.20" y1="263.07" x2="439.80" y2="263.07" stroke="#000" stroke-width="0.8"/>
<rect x="280.90" y="255.91" width="5.20" height="5.20" fill="#000"/>
<rect x="319.27" y="211.13" width="5.20" height="5.20" fill="#000"/>
<rect x="434.40" y="255.20" width="5.20" height="5.20" fill="#000"/>
<line x1="273.40" y1="187.90" x2="284.20" y2="187.90" stroke="#000" stroke-width="0.9"/>
<circle cx="278.80" cy="187.60" r="2.60" fill="#000"/>
<line x1="327.40" y1="187.90" x2="338.20" y2="187.90" stroke="#000" stroke-width="0.9"/>
<rect x="330.15" y="184.95" width="5.30" height="5.30" fill="#000"/>
<line x1="368.00" y1="187.90" x2="378.80" y2="187.90" stroke="#000" stroke-width="0.9"/>
<polygon points="373.40,185.50 376.25,190.63 370.55,190.63" fill="#000"/>
<text x="291.06" y="192.07" font-size="10.6" text-anchor="start">CHOW</text>
<text x="343.83" y="192.07" font-size="10.6" text-anchor="start">HFD</text>
<text x="385.43" y="192.07" font-size="10.6" text-anchor="start">HFD</text>
<line x1="407.51" y1="188.50" x2="416.32" y2="188.50" stroke="#000" stroke-width="0.8"/>
<path d="M413.92,186.90 L416.92,188.50 L413.92,190.10" fill="none" stroke="#000" stroke-width="0.8"/>
<text x="416.98" y="192.07" font-size="10.6" text-anchor="start">CHOW</text>
<text x="283.60" y="254.36" font-size="12" text-anchor="middle" class="ast">*</text>
<text x="318.85" y="207.26" font-size="12" text-anchor="middle" class="ast">*</text>
<text x="325.15" y="207.26" font-size="12" text-anchor="middle" class="ast">*</text>
<text x="436.70" y="253.66" font-size="12" text-anchor="middle" class="ast">*</text>
<path d="M284.30,280.50v8.0" stroke="#000" stroke-width="1.1"/><path d="M281.90,282.60h4.8M281.90,286.50h4.8" stroke="#000" stroke-width="0.9"/>
<path d="M321.25,271.00v8.0" stroke="#000" stroke-width="1.1"/><path d="M318.85,273.10h4.8M318.85,277.00h4.8" stroke="#000" stroke-width="0.9"/>
<path d="M326.35,271.00v8.0" stroke="#000" stroke-width="1.1"/><path d="M323.95,273.10h4.8M323.95,277.00h4.8" stroke="#000" stroke-width="0.9"/>
<path d="M437.00,283.60v8.0" stroke="#000" stroke-width="1.1"/><path d="M434.60,285.70h4.8M434.60,289.60h4.8" stroke="#000" stroke-width="0.9"/>
<text x="467.00" y="187.80" font-size="14" text-anchor="start" class="lab">F</text>
<line x1="502.30" y1="291.25" x2="502.30" y2="192.50" stroke="#000" stroke-width="1.3"/>
<line x1="499.10" y1="290.75" x2="502.30" y2="290.75" stroke="#000" stroke-width="1.0"/>
<text x="497.70" y="294.46" font-size="10.3" text-anchor="end" class="tk">0.0</text>
<line x1="499.10" y1="258.17" x2="502.30" y2="258.17" stroke="#000" stroke-width="1.0"/>
<text x="497.70" y="261.87" font-size="10.3" text-anchor="end" class="tk">0.5</text>
<line x1="499.10" y1="225.58" x2="502.30" y2="225.58" stroke="#000" stroke-width="1.0"/>
<text x="497.70" y="229.29" font-size="10.3" text-anchor="end" class="tk"> .0</text>
<path d="M583 0V1120L215 905V1080L600 1409H763V0Z" transform="translate(483.38,229.29) scale(0.00503,-0.00503)" fill="#000" stroke="#000" stroke-width="19.9"/>
<line x1="499.10" y1="193.00" x2="502.30" y2="193.00" stroke="#000" stroke-width="1.0"/>
<text x="497.70" y="196.71" font-size="10.3" text-anchor="end" class="tk"> .5</text>
<path d="M583 0V1120L215 905V1080L600 1409H763V0Z" transform="translate(483.38,196.71) scale(0.00503,-0.00503)" fill="#000" stroke="#000" stroke-width="19.9"/>
<line x1="512.75" y1="302.00" x2="666.10" y2="302.00" stroke="#000" stroke-width="1.3"/>
<line x1="513.25" y1="302.00" x2="513.25" y2="305.20" stroke="#000" stroke-width="1.0"/>
<text x="513.25" y="316.20" font-size="10.3" text-anchor="middle" class="tk">0</text>
<line x1="551.34" y1="302.00" x2="551.34" y2="305.20" stroke="#000" stroke-width="1.0"/>
<text x="551.34" y="316.20" font-size="10.3" text-anchor="middle" class="tk"> 5</text>
<path d="M583 0V1120L215 905V1080L600 1409H763V0Z" transform="translate(545.61,316.20) scale(0.00503,-0.00503)" fill="#000" stroke="#000" stroke-width="19.9"/>
<line x1="589.42" y1="302.00" x2="589.42" y2="305.20" stroke="#000" stroke-width="1.0"/>
<text x="589.42" y="316.20" font-size="10.3" text-anchor="middle" class="tk">30</text>
<line x1="627.51" y1="302.00" x2="627.51" y2="305.20" stroke="#000" stroke-width="1.0"/>
<text x="627.51" y="316.20" font-size="10.3" text-anchor="middle" class="tk">45</text>
<line x1="665.60" y1="302.00" x2="665.60" y2="305.20" stroke="#000" stroke-width="1.0"/>
<text x="665.60" y="316.20" font-size="10.3" text-anchor="middle" class="tk">60</text>
<text x="590.50" y="331.40" font-size="13.5" text-anchor="middle">Time (min)</text>
<text x="0" y="0" font-size="12.3" text-anchor="middle" transform="translate(480.70,240.40) rotate(-90)">FFA (mM)</text>
<polyline points="513.25,215.48 551.34,255.63 665.60,228.78" fill="none" stroke="#000" stroke-width="0.75"/>
<line x1="665.60" y1="227.47" x2="665.60" y2="230.08" stroke="#000" stroke-width="0.8"/>
<line x1="662.80" y1="227.47" x2="668.40" y2="227.47" stroke="#000" stroke-width="0.8"/>
<line x1="662.80" y1="230.08" x2="668.40" y2="230.08" stroke="#000" stroke-width="0.8"/>
<circle cx="513.25" cy="215.48" r="2.60" fill="#000"/>
<circle cx="551.34" cy="255.63" r="2.60" fill="#000"/>
<circle cx="665.60" cy="228.78" r="2.60" fill="#000"/>
<polyline points="513.25,237.97 551.34,267.94 665.60,249.04" fill="none" stroke="#000" stroke-width="0.75"/>
<polygon points="513.25,234.97 516.25,240.37 510.25,240.37" fill="#000"/>
<polygon points="551.34,264.94 554.34,270.34 548.34,270.34" fill="#000"/>
<polygon points="665.60,246.04 668.60,251.44 662.60,251.44" fill="#000"/>
<polyline points="513.25,238.36 551.34,258.95 665.60,249.11" fill="none" stroke="#000" stroke-width="0.75"/>
<rect x="510.65" y="235.76" width="5.20" height="5.20" fill="#000"/>
<rect x="548.74" y="256.35" width="5.20" height="5.20" fill="#000"/>
<rect x="663.00" y="246.51" width="5.20" height="5.20" fill="#000"/>
<line x1="502.60" y1="187.90" x2="513.40" y2="187.90" stroke="#000" stroke-width="0.9"/>
<circle cx="508.00" cy="187.60" r="2.60" fill="#000"/>
<line x1="557.70" y1="187.90" x2="568.50" y2="187.90" stroke="#000" stroke-width="0.9"/>
<rect x="560.45" y="184.95" width="5.30" height="5.30" fill="#000"/>
<line x1="600.80" y1="187.90" x2="611.60" y2="187.90" stroke="#000" stroke-width="0.9"/>
<polygon points="606.20,185.50 609.05,190.63 603.35,190.63" fill="#000"/>
<text x="520.16" y="192.07" font-size="10.6" text-anchor="start">CHOW</text>
<text x="575.03" y="192.07" font-size="10.6" text-anchor="start">HFD</text>
<text x="618.03" y="192.07" font-size="10.6" text-anchor="start">HFD</text>
<line x1="640.11" y1="188.50" x2="648.32" y2="188.50" stroke="#000" stroke-width="0.8"/>
<path d="M645.92,186.90 L648.92,188.50 L645.92,190.10" fill="none" stroke="#000" stroke-width="0.8"/>
<text x="648.98" y="192.07" font-size="10.6" text-anchor="start">CHOW</text>
<text x="507.70" y="254.66" font-size="12" text-anchor="middle" class="ast">*</text>
<text x="514.00" y="254.66" font-size="12" text-anchor="middle" class="ast">*</text>
<text x="520.30" y="254.66" font-size="12" text-anchor="middle" class="ast">*</text>
<path d="M508.60,253.60v8.2" stroke="#000" stroke-width="1.05"/><path d="M506.20,256.10h4.8" stroke="#000" stroke-width="1.0"/>
<path d="M514.40,253.60v8.2" stroke="#000" stroke-width="1.05"/><path d="M512.00,256.10h4.8" stroke="#000" stroke-width="1.0"/>
<path d="M520.20,253.60v8.2" stroke="#000" stroke-width="1.05"/><path d="M517.80,256.10h4.8" stroke="#000" stroke-width="1.0"/>
<path d="M552.00,273.60v8.2" stroke="#000" stroke-width="1.05"/><path d="M549.60,276.10h4.8" stroke="#000" stroke-width="1.0"/>
<text x="659.50" y="264.86" font-size="12" text-anchor="middle" class="ast">*</text>
<text x="665.80" y="264.86" font-size="12" text-anchor="middle" class="ast">*</text>
<text x="672.10" y="264.86" font-size="12" text-anchor="middle" class="ast">*</text>
<path d="M660.30,264.90v8.2" stroke="#000" stroke-width="1.05"/><path d="M657.90,267.40h4.8" stroke="#000" stroke-width="1.0"/>
<path d="M666.10,264.90v8.2" stroke="#000" stroke-width="1.05"/><path d="M663.70,267.40h4.8" stroke="#000" stroke-width="1.0"/>
<path d="M671.90,264.90v8.2" stroke="#000" stroke-width="1.05"/><path d="M669.50,267.40h4.8" stroke="#000" stroke-width="1.0"/>
</svg>
</body></html>
